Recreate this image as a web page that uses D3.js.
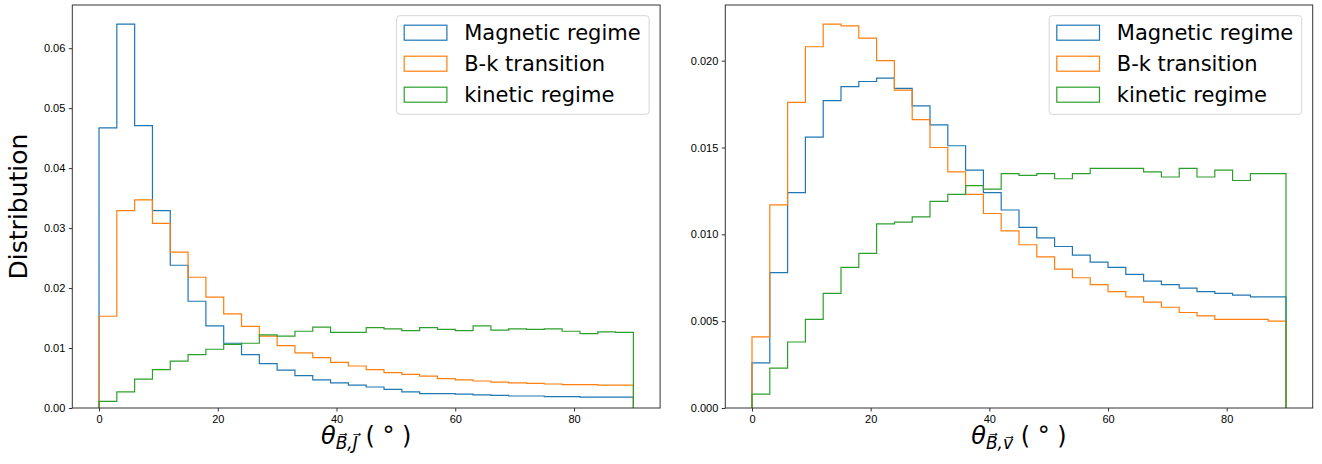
<!DOCTYPE html>
<html>
<head>
<meta charset="utf-8">
<script src="https://cdnjs.cloudflare.com/ajax/libs/d3/7.8.5/d3.min.js"></script>
<style>
  body { margin: 0; background: #fff; }
  svg { display: block; font-family: "DejaVu Sans", sans-serif; }
  .tick text { font-size: 11px; fill: #000; }
  .tick line { stroke: #000; stroke-width: 0.8; }
  .domain { display: none; }
</style>
</head>
<body>
<script>
// bins of 3 degrees between 0 and 90
var binEdges = d3.range(0, 91, 3);
var seriesNames = ["Magnetic regime", "B-k transition", "kinetic regime"];
var seriesColors = ["#1f77b4", "#ff7f0e", "#2ca02c"];

// left panel: angle between B and J
var magJ = [0.0467,0.0640,0.0471,0.0329,0.0238,0.0178,0.0137,0.0108,0.0089,0.0074,
            0.0063,0.0054,0.0047,0.0042,0.0038,0.0035,0.0031,0.0027,0.0024,0.0024,
            0.0023,0.0022,0.0021,0.0020,0.0020,0.0019,0.0019,0.0018,0.0018,0.0018];
var bkJ  = [0.0153,0.0329,0.0347,0.0308,0.0260,0.0218,0.0185,0.0157,0.0136,0.0120,
            0.0104,0.0092,0.0084,0.0076,0.0070,0.0064,0.0059,0.0056,0.0053,0.0049,
            0.0047,0.0045,0.0043,0.0042,0.0041,0.0040,0.0039,0.0039,0.0038,0.0038];
var kinJ = [0.0011,0.0027,0.0048,0.0064,0.0078,0.0089,0.0098,0.0106,0.0108,0.0122,
            0.0120,0.0128,0.0135,0.0126,0.0126,0.0134,0.0132,0.0129,0.0134,0.0131,
            0.0129,0.0137,0.0130,0.0132,0.0131,0.0132,0.0128,0.0124,0.0127,0.0126];

// right panel: angle between B and v
var magV = [0.0026,0.0078,0.0124,0.0156,0.0177,0.0185,0.0188,0.0190,0.0184,0.0174,
            0.0163,0.0151,0.0137,0.0124,0.0114,0.0104,0.0098,0.0093,0.0088,0.0084,
            0.0081,0.0077,0.0073,0.0071,0.0069,0.0067,0.0066,0.0065,0.0064,0.0064];
var bkV  = [0.0041,0.0117,0.0176,0.0208,0.0221,0.0220,0.0213,0.0200,0.0183,0.0166,
            0.0150,0.0136,0.0123,0.0112,0.0102,0.0094,0.0087,0.0080,0.0075,0.0071,
            0.0067,0.0064,0.0061,0.0058,0.0055,0.0053,0.0051,0.0051,0.0051,0.0050];
var kinV = [0.0008,0.0023,0.0038,0.0051,0.0066,0.0081,0.0089,0.0106,0.0107,0.0110,
            0.0119,0.0123,0.0128,0.0126,0.0135,0.0134,0.0135,0.0132,0.0135,0.0138,
            0.0138,0.0138,0.0136,0.0133,0.0138,0.0133,0.0137,0.0131,0.0135,0.0135];

var xTicks = [0, 20, 40, 60, 80];
var yTicksJ = [0, 0.01, 0.02, 0.03, 0.04, 0.05, 0.06];
var yTicksV = [0, 0.005, 0.010, 0.015, 0.020];

var width = 1322, height = 464;

var svg = d3.select("body").append("svg")
    .attr("width", width)
    .attr("height", height);

function panel(left, right, series, yTicks, yFmt, sub) {
  var top = 5, bottom = 408;
  var x = d3.scaleLinear().domain([-4.5, 94.5]).range([left, right]);
  var ymax = d3.max(series, function(s) { return d3.max(s); }) * 1.05;
  var y = d3.scaleLinear().domain([0, ymax]).range([bottom, top]);

  var g = svg.append("g");

  g.append("g")
      .attr("transform", "translate(0," + bottom + ")")
      .call(d3.axisBottom(x).tickValues(xTicks).tickSize(3.5).tickPadding(3.5));
  g.append("g")
      .attr("transform", "translate(" + left + ",0)")
      .call(d3.axisLeft(y).tickValues(yTicks).tickFormat(d3.format(yFmt)).tickSize(3.5).tickPadding(3.5));

  var line = d3.line()
      .x(function(d) { return x(d[0]); })
      .y(function(d) { return y(d[1]); });

  series.forEach(function(vals, i) {
    var pts = [[binEdges[0], 0]];
    vals.forEach(function(v, k) {
      pts.push([binEdges[k], v]);
      pts.push([binEdges[k + 1], v]);
    });
    pts.push([binEdges[binEdges.length - 1], 0]);
    g.append("path")
        .attr("d", line(pts))
        .attr("fill", "none")
        .attr("stroke", seriesColors[i])
        .attr("stroke-width", 1.2);
  });

  // frame
  g.append("rect")
      .attr("x", left).attr("y", top)
      .attr("width", right - left).attr("height", bottom - top)
      .attr("fill", "none")
      .attr("stroke", "#333")
      .attr("stroke-width", 1);

  // legend
  var lw = 252.5, lx = right - 11 - lw, ly = top + 10.7;
  g.append("rect")
      .attr("x", lx).attr("y", ly)
      .attr("width", lw).attr("height", 98.6)
      .attr("rx", 3)
      .attr("fill", "#fff").attr("fill-opacity", 0.8)
      .attr("stroke", "#d6d6d6");
  seriesNames.forEach(function(name, i) {
    var cy = ly + 17 + i * 31;
    g.append("rect")
        .attr("x", lx + 7.6).attr("y", cy - 7.5)
        .attr("width", 42.7).attr("height", 15)
        .attr("fill", "none")
        .attr("stroke", seriesColors[i])
        .attr("stroke-width", 1.2);
    g.append("text")
        .attr("x", lx + 67.6).attr("y", cy + 7.5)
        .attr("font-size", "21px")
        .text(name);
  });

  // x label
  var xl = g.append("text")
      .attr("x", (left + right) / 2).attr("y", 444)
      .attr("text-anchor", "middle")
      .attr("font-size", "24px");
  xl.append("tspan").attr("font-style", "italic").text("\u03b8");
  xl.append("tspan").attr("font-style", "italic").attr("font-size", "17px")
      .attr("dy", 5).text(sub);
  xl.append("tspan").attr("dy", -5).text(" ( \u00b0 )");
}

panel(72.3, 660.1, [magJ, bkJ, kinJ], yTicksJ, ".2f", "B\u20d7,J\u20d7");
panel(725.3, 1312.7, [magV, bkV, kinV], yTicksV, ".3f", "B\u20d7,v\u20d7");

svg.append("text")
    .attr("transform", "translate(27,206.5) rotate(-90)")
    .attr("text-anchor", "middle")
    .attr("font-size", "25px")
    .text("Distribution");
</script>
</body>
</html>
